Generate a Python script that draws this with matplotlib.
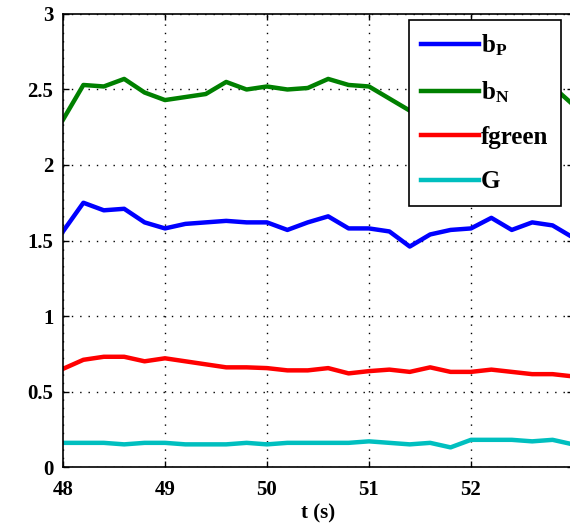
import matplotlib
matplotlib.use("Agg")
import matplotlib.pyplot as plt
import numpy as np

# time axis, 0.2 s steps
t = np.arange(48.0, 53.01, 0.2)

b_p = [1.56, 1.75, 1.70, 1.71, 1.62, 1.58, 1.61, 1.62, 1.63, 1.62, 1.62, 1.57, 1.62,
       1.66, 1.58, 1.58, 1.56, 1.46, 1.54, 1.57, 1.58, 1.65, 1.57, 1.62, 1.60, 1.52]
b_n = [2.30, 2.53, 2.52, 2.57, 2.48, 2.43, 2.45, 2.47, 2.55, 2.50, 2.52, 2.50, 2.51,
       2.57, 2.53, 2.52, 2.44, 2.36, 2.33, 2.35, 2.40, 2.45, 2.48, 2.50, 2.52, 2.40]
fgreen = [0.65, 0.71, 0.73, 0.73, 0.70, 0.72, 0.70, 0.68, 0.66, 0.66, 0.655, 0.64, 0.64,
          0.655, 0.62, 0.635, 0.645, 0.63, 0.66, 0.63, 0.63, 0.645, 0.63, 0.615, 0.615, 0.60]
g = [0.16, 0.16, 0.16, 0.15, 0.16, 0.16, 0.15, 0.15, 0.15, 0.16, 0.15, 0.16, 0.16,
     0.16, 0.16, 0.17, 0.16, 0.15, 0.16, 0.13, 0.18, 0.18, 0.18, 0.17, 0.18, 0.15]

labels = [r'$\mathrm{b_P}$', r'$\mathrm{b_N}$', 'fgreen', 'G']
colors = ['#0000ff', '#008000', '#ff0000', '#00bfbf']

plt.rcParams['font.family'] = 'Liberation Serif'
plt.rcParams['font.weight'] = 'bold'
plt.rcParams['mathtext.fontset'] = 'custom'
plt.rcParams['mathtext.rm'] = 'Liberation Serif:bold'
plt.rcParams['mathtext.it'] = 'Liberation Serif:bold'
plt.rcParams['mathtext.bf'] = 'Liberation Serif:bold'

fig = plt.figure(figsize=(5.7, 5.28), dpi=100)
ax = fig.add_axes([0.1105, 0.1155, 0.8947, 0.858])

for y, lab, c in zip([b_p, b_n, fgreen, g], labels, colors):
    ax.plot(t, y, color=c, linewidth=3.2, label=lab)

ax.set_xlim(48, 53)
ax.set_ylim(0, 3)
ax.set_xticks([48, 49, 50, 51, 52])
ax.set_yticks([0, 0.5, 1, 1.5, 2, 2.5, 3])
ax.set_yticklabels(['0', '0.5', '1', '1.5', '2', '2.5', '3'])
ax.tick_params(direction='in', top=True, right=True, labelsize=15, length=4, width=1)
ax.tick_params(axis='x', pad=9)
ax.tick_params(axis='y', pad=7)
ax.grid(True, color='black', linestyle=(0, (1, 5)), linewidth=1)
for s in ax.spines.values():
    s.set_linewidth(1.2)
ax.set_xlabel('t (s)', fontsize=15, fontweight='bold', labelpad=3)

leg = ax.legend(loc='upper right', bbox_to_anchor=(0.9765, 0.9868), borderaxespad=0,
                fontsize=18, fancybox=False, edgecolor='black', framealpha=1,
                handlelength=2.3, handletextpad=0.1, labelspacing=0.85,
                borderpad=0.5)
leg.get_frame().set_linewidth(1.2)

fig.savefig('out.png', dpi=100)
